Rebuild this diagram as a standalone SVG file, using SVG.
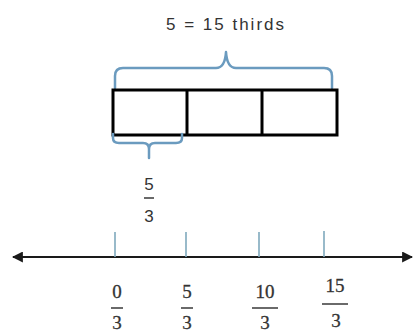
<svg xmlns="http://www.w3.org/2000/svg" width="414" height="334" viewBox="0 0 414 334">
<defs>
<style>
.brace{fill:none;stroke:#6b9bbf;stroke-width:2.5;stroke-linecap:round;stroke-linejoin:round}
.box{fill:#fff;stroke:#000;stroke-width:3}
.tick{stroke:#7fa9bd;stroke-width:1.6}
.axis{stroke:#1a1a1a;stroke-width:2.2}
.sans{font-family:"Liberation Sans","Open Sans",sans-serif;fill:#333}
.serif{font-family:"Liberation Serif","DejaVu Serif",serif;fill:#333;font-size:19px;text-anchor:middle;stroke:#333;stroke-width:0.3}
.bar{stroke:#444;stroke-width:1.6}
</style>
<marker id="ah" viewBox="0 0 10 10" refX="9" refY="5" markerWidth="5" markerHeight="5" orient="auto-start-reverse" markerUnits="strokeWidth">
<path d="M0,0 L10,5 L0,10 z" fill="#1a1a1a"/>
</marker>
</defs>
<rect width="414" height="334" fill="#fff"/>
<g id="title">
<text class="sans" x="166" y="30" font-size="17" textLength="118" lengthAdjust="spacing">5 = 15 thirds</text>
</g>
<g id="big-brace">
<path class="brace" d="M115,88 V76 Q115,68 123,68 H216 Q225,68 226,52 Q227,68 236,68 H324 Q332,68 332,76 V88"/>
</g>
<g id="tape">
<rect class="box" x="113" y="90" width="224" height="45"/>
<line class="box" x1="187" y1="90" x2="187" y2="135"/>
<line class="box" x1="262" y1="90" x2="262" y2="135"/>
</g>
<g id="small-brace">
<path class="brace" d="M113,134 V138 Q113,143 119,143 H143 Q149,143 149,149 V158 M182,134 V138 Q182,143 176,143 H155 Q149,143 149,149"/>
<text class="sans" x="149" y="190" font-size="17" text-anchor="middle">5</text>
<line class="bar" x1="144" y1="198" x2="154" y2="198"/>
<text class="sans" x="149" y="222" font-size="17" text-anchor="middle">3</text>
</g>
<g id="connectors">
<line class="axis" x1="13" y1="257" x2="412" y2="257" marker-start="url(#ah)" marker-end="url(#ah)"/>
<line class="tick" x1="115" y1="232" x2="115" y2="257"/>
<line class="tick" x1="186" y1="232" x2="186" y2="257"/>
<line class="tick" x1="259" y1="232" x2="259" y2="257"/>
<line class="tick" x1="324" y1="231" x2="324" y2="257"/>
</g>
<g id="label-0">
<text class="serif" x="117" y="298">0</text>
<line class="bar" x1="111" y1="308" x2="123" y2="308"/>
<text class="serif" x="117" y="329">3</text>
</g>
<g id="label-5">
<text class="serif" x="187" y="298">5</text>
<line class="bar" x1="181" y1="308" x2="193" y2="308"/>
<text class="serif" x="187" y="329">3</text>
</g>
<g id="label-10">
<text class="serif" x="265" y="298">10</text>
<line class="bar" x1="252" y1="308" x2="278" y2="308"/>
<text class="serif" x="265" y="329">3</text>
</g>
<g id="label-15">
<text class="serif" x="335" y="292">15</text>
<line class="bar" x1="322" y1="304" x2="348" y2="304"/>
<text class="serif" x="336" y="327">3</text>
</g>
</svg>
